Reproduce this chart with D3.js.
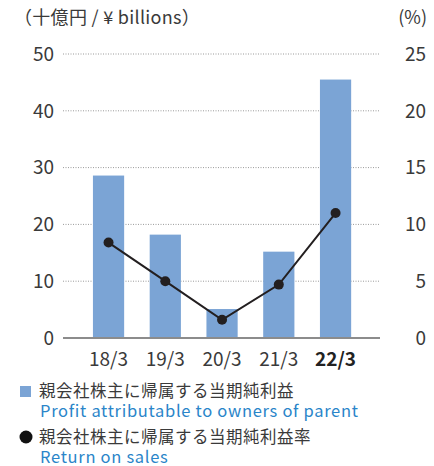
<!DOCTYPE html>
<html>
<head>
<meta charset="utf-8">
<script src="https://cdn.jsdelivr.net/npm/d3@7"></script>
<style>
  body { margin: 0; background: #fff; }
  svg { display: block; font-family: "Noto Sans CJK JP", "Noto Sans", sans-serif; }
</style>
</head>
<body>
<svg id="chart" width="434" height="466"></svg>
<script>
// --- Data -----------------------------------
const years = ["18/3", "19/3", "20/3", "21/3", "22/3"];
const profit = [28.6, 18.2, 5.1, 15.2, 45.5];      // ¥ billions
const returnOnSales = [8.4, 5.0, 1.6, 4.7, 11.0];  // %
const leftTicks = [0, 10, 20, 30, 40, 50];
const rightTicks = [0, 5, 10, 15, 20, 25];

const barColor = "#7ba4d5";
const textColor = "#3a3a3a";
const blueText = "#2a85c9";

const svg = d3.select("#chart");

// scales
const x = d3.scaleBand()
  .domain(years)
  .range([67.4, 376.7])
  .padding(0.45);

const yL = d3.scaleLinear().domain([0, 50]).range([338, 54]);
const yR = d3.scaleLinear().domain([0, 25]).range([338, 54]);

// gridlines (dotted)
svg.append("g")
  .selectAll("line")
  .data(leftTicks.filter(d => d > 0))
  .join("line")
  .attr("x1", 63).attr("x2", 380)
  .attr("y1", d => yL(d)).attr("y2", d => yL(d))
  .attr("stroke", "#9a9a9a")
  .attr("stroke-width", 1)
  .attr("stroke-dasharray", "1,1.5");

// bars
svg.append("g")
  .selectAll("rect")
  .data(profit)
  .join("rect")
  .attr("x", (d, i) => x(years[i]))
  .attr("width", x.bandwidth())
  .attr("y", d => yL(d))
  .attr("height", d => yL(0) - yL(d))
  .attr("fill", barColor);

// baseline
svg.append("line")
  .attr("x1", 63).attr("x2", 380)
  .attr("y1", yL(0)).attr("y2", yL(0))
  .attr("stroke", "#8c8c8c")
  .attr("stroke-width", 2);

// left axis labels
svg.append("g")
  .selectAll("text")
  .data(leftTicks)
  .join("text")
  .attr("x", 54)
  .attr("y", d => yL(d))
  .attr("dy", "0.36em")
  .attr("text-anchor", "end")
  .attr("font-size", 19)
  .attr("fill", textColor)
  .text(d => d);

// right axis labels
svg.append("g")
  .selectAll("text")
  .data(rightTicks)
  .join("text")
  .attr("x", 426)
  .attr("y", d => yR(d))
  .attr("dy", "0.36em")
  .attr("text-anchor", "end")
  .attr("font-size", 19)
  .attr("fill", textColor)
  .text(d => d);

// x labels
svg.append("g")
  .selectAll("text")
  .data(years)
  .join("text")
  .attr("x", d => x(d) + x.bandwidth() / 2)
  .attr("y", 366)
  .attr("text-anchor", "middle")
  .attr("font-size", 19)
  .attr("font-weight", (d, i) => i === years.length - 1 ? "bold" : "normal")
  .attr("fill", (d, i) => i === years.length - 1 ? "#222" : textColor)
  .text(d => d);

// line + dots
const line = d3.line()
  .x((d, i) => x(years[i]) + x.bandwidth() / 2)
  .y(d => yR(d));

svg.append("path")
  .datum(returnOnSales)
  .attr("d", line)
  .attr("fill", "none")
  .attr("stroke", "#231f20")
  .attr("stroke-width", 2);

svg.append("g")
  .selectAll("circle")
  .data(returnOnSales)
  .join("circle")
  .attr("cx", (d, i) => x(years[i]) + x.bandwidth() / 2)
  .attr("cy", d => yR(d))
  .attr("r", 5)
  .attr("fill", "#231f20");

// unit titles
svg.append("text")
  .attr("x", 14).attr("y", 24)
  .attr("font-size", 18)
  .attr("letter-spacing", 0.3)
  .attr("fill", textColor)
  .text("（十億円 / ¥ billions）");

svg.append("text")
  .attr("x", 427).attr("y", 24)
  .attr("text-anchor", "end")
  .attr("font-size", 18)
  .attr("fill", textColor)
  .text("(%)");

// legend
svg.append("rect")
  .attr("x", 20).attr("y", 386)
  .attr("width", 11).attr("height", 11)
  .attr("fill", barColor);

svg.append("text")
  .attr("x", 39).attr("y", 397)
  .attr("font-size", 16.5)
  .attr("letter-spacing", 0.5)
  .attr("fill", textColor)
  .text("親会社株主に帰属する当期純利益");

svg.append("text")
  .attr("x", 40).attr("y", 416.5)
  .attr("font-size", 16.5)
  .attr("letter-spacing", 0.7)
  .attr("fill", blueText)
  .text("Profit attributable to owners of parent");

svg.append("circle")
  .attr("cx", 26).attr("cy", 437)
  .attr("r", 6.5)
  .attr("fill", "#111");

svg.append("text")
  .attr("x", 39).attr("y", 443)
  .attr("font-size", 16.5)
  .attr("letter-spacing", 0.5)
  .attr("fill", textColor)
  .text("親会社株主に帰属する当期純利益率");

svg.append("text")
  .attr("x", 40).attr("y", 462.5)
  .attr("font-size", 16.5)
  .attr("letter-spacing", 0.7)
  .attr("fill", blueText)
  .text("Return on sales");
</script>
</body>
</html>
